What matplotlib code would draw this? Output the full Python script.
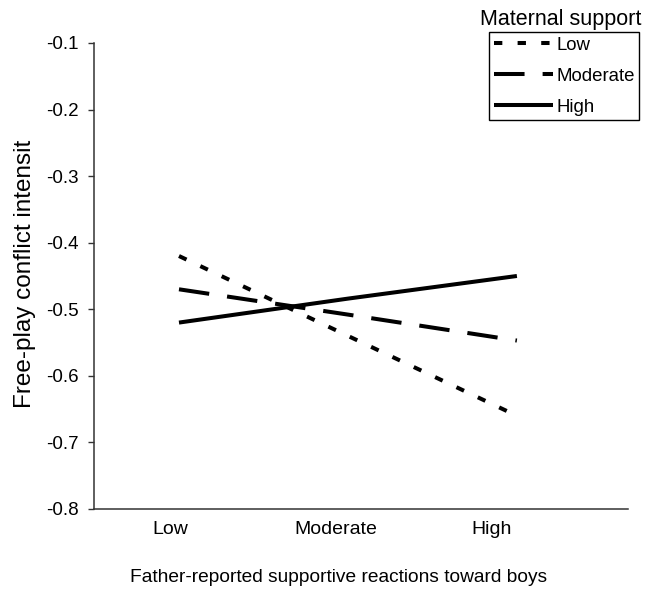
import matplotlib
matplotlib.use("Agg")
import matplotlib.pyplot as plt

# ---------------------------------------------------------------------------
# Data
# ---------------------------------------------------------------------------
categories = ["Low", "Moderate", "High"]
support_levels = ["Low", "Moderate", "High"]

low_support = [-0.42, -0.54, -0.66]
moderate_support = [-0.47, -0.508, -0.547]
high_support = [-0.52, -0.484, -0.45]

y_ticks = [-0.8, -0.7, -0.6, -0.5, -0.4, -0.3, -0.2, -0.1]

# ---------------------------------------------------------------------------
# Style
# ---------------------------------------------------------------------------
plt.rcParams["font.family"] = ["Liberation Sans", "DejaVu Sans"]
plt.rcParams["lines.scale_dashes"] = False

LINE_STYLES = {
    "Low":      (0, (6, 11)),
    "Moderate": (0, (22, 13)),
    "High":     "-",
}
# category labels sit a little left of the plotted points in the original
TICK_SHIFT = [-0.053, -0.071, -0.148]

fig = plt.figure(figsize=(6.46, 5.93), dpi=100)
ax = fig.add_axes([0.1455, 0.1417, 0.972 - 0.1455, 0.9275 - 0.1417])

x = list(range(len(categories)))
series = [low_support, moderate_support, high_support]
for name, vals in zip(support_levels, series):
    ax.plot(x, vals, color="black", lw=2.9, linestyle=LINE_STYLES[name],
            solid_capstyle="butt", dash_capstyle="butt", label=name)

ax.set_xlim(-0.503, 2.657)
ax.set_ylim(-0.8, -0.1)
ax.set_yticks(y_ticks)
ax.set_yticklabels([f"{v:.1f}" for v in y_ticks])

ax.set_xticks([i + s for i, s in zip(x, TICK_SHIFT)])
ax.set_xticklabels(categories)

for side in ["top", "right"]:
    ax.spines[side].set_visible(False)
for side in ["left", "bottom"]:
    ax.spines[side].set_color("#333333")
    ax.spines[side].set_linewidth(1.1)

ax.tick_params(axis="y", direction="out", length=4.3, width=1,
               color="#333333", labelsize=13.5, pad=6.5)
ax.tick_params(axis="x", length=0, labelsize=14, pad=9)

ax.set_xlabel("Father-reported supportive reactions toward boys", fontsize=13.8)
ax.xaxis.label.set_va("center")
ax.xaxis.set_label_coords(0.459, -0.148)

ax.set_ylabel("Free-play conflict intensit", fontsize=17.5)
ax.yaxis.label.set_va("center")
ax.yaxis.set_label_coords(-0.129, 0.505)

leg = ax.legend(loc="upper right", bbox_to_anchor=(639.3 / 646, 1 - 32 / 593),
                bbox_transform=fig.transFigure, borderaxespad=0,
                fontsize=13.4, handlelength=3.2, handletextpad=0.15,
                labelspacing=0.75, borderpad=0.25, fancybox=False,
                framealpha=1, edgecolor="black")
leg.get_frame().set_linewidth(1.0)

fig.text(561 / 646, 1 - 19 / 593, "Maternal support", ha="center",
         va="center", fontsize=15.5)

fig.savefig("out.png", dpi=100)
